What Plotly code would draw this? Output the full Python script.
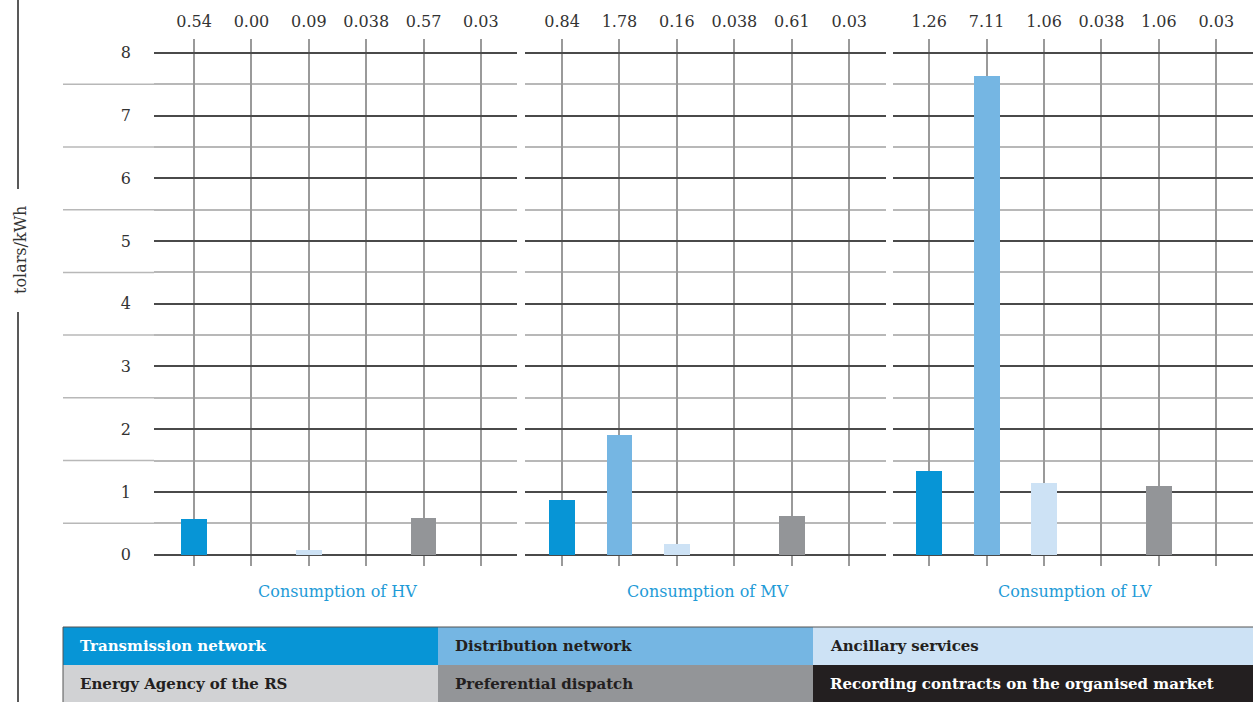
import plotly.graph_objects as go

W, H = 1253, 702

# ---- data ----
panels = ["Consumption of HV", "Consumption of MV", "Consumption of LV"]
series = ["Transmission network", "Distribution network", "Ancillary services",
          "Energy Agency of the RS", "Preferential dispatch",
          "Recording contracts on the organised market"]
colors = ["#0795d6", "#75b6e3", "#cde2f5", "#d1d2d4", "#939598", "#231f20"]

# labelled values printed above each column
labels_hv = ["0.54", "0.00", "0.09", "0.038", "0.57", "0.03"]
labels_mv = ["0.84", "1.78", "0.16", "0.038", "0.61", "0.03"]
labels_lv = ["1.26", "7.11", "1.06", "0.038", "1.06", "0.03"]

# bar heights as drawn in the picture
bars_hv = [0.57, 0.0, 0.075, 0.0, 0.585, 0.0]
bars_mv = [0.87, 1.91, 0.17, 0.0, 0.62, 0.0]
bars_lv = [1.335, 7.63, 1.14, 0.0, 1.095, 0.0]

y_ticks = [0, 1, 2, 3, 4, 5, 6, 7, 8]
y_title = "tolars/kWh"

labels_all = [labels_hv, labels_mv, labels_lv]
bars_all = [bars_hv, bars_mv, bars_lv]

FONT = "DejaVu Serif"
px_x = lambda p: p / W
px_y = lambda p: 1 - p / H

domains = [(154, 517), (525, 886), (893, 1253)]
xranges = [[-0.70, 5.63], [-0.645, 5.64], [-0.63, 5.64]]
cats = list(range(6))

fig = go.Figure()
for i in range(3):
    sfx = "" if i == 0 else str(i + 1)
    fig.add_trace(go.Bar(
        x=cats, y=bars_all[i], width=0.45,
        marker=dict(color=colors, line=dict(width=0)),
        xaxis="x" + sfx, yaxis="y" + sfx, showlegend=False,
        hoverinfo="skip"))
    fig.update_layout(**{
        "xaxis" + sfx: dict(
            domain=[px_x(domains[i][0]), px_x(domains[i][1])],
            range=xranges[i], side="top", anchor="y" + sfx,
            tickvals=cats, ticktext=labels_all[i],
            showgrid=True, gridcolor="#9a9a9a", gridwidth=1.5,
            zeroline=False, showline=False, ticks="",
            ticklabelstandoff=8,
            tickfont=dict(family=FONT, size=16, color="#333333"),
            fixedrange=True),
        "yaxis" + sfx: dict(
            domain=[px_y(566), px_y(39)], range=[-0.18, 8.22],
            anchor="x" + sfx, tickvals=y_ticks,
            showticklabels=(i == 0),
            showgrid=True, gridcolor="#4a4a4a", gridwidth=1.5,
            minor=dict(dtick=0.5, tick0=0, showgrid=True,
                       gridcolor="#b8b8b8", gridwidth=1.5),
            zeroline=False, showline=False, ticks="",
            ticklabelstandoff=22,
            tickfont=dict(family=FONT, size=16, color="#333333"),
            fixedrange=True),
    })

shapes = []
annotations = []

# light half-unit lines extending left of the first panel
for k in range(8):
    yv = k + 0.5
    shapes.append(dict(type="line", xref="paper", yref="y",
                       x0=px_x(63), x1=px_x(154), y0=yv, y1=yv,
                       line=dict(color="#b8b8b8", width=1.5), layer="below"))

# left vertical rule broken around the axis title
shapes.append(dict(type="line", xref="paper", yref="paper",
                   x0=px_x(18), x1=px_x(18), y0=px_y(0), y1=px_y(189),
                   line=dict(color="#222222", width=1.5)))
shapes.append(dict(type="line", xref="paper", yref="paper",
                   x0=px_x(18), x1=px_x(18), y0=px_y(312), y1=px_y(702),
                   line=dict(color="#222222", width=1.5)))
annotations.append(dict(text=y_title, xref="paper", yref="paper",
                        x=px_x(20), y=px_y(250), textangle=-90,
                        showarrow=False, xanchor="center", yanchor="middle",
                        font=dict(family=FONT, size=16, color="#333333")))

# panel titles
for i in range(3):
    cx = (domains[i][0] + domains[i][1]) / 2 + 2
    annotations.append(dict(text=panels[i], xref="paper", yref="paper",
                            x=px_x(cx), y=px_y(591), showarrow=False,
                            xanchor="center", yanchor="middle",
                            font=dict(family=FONT, size=16, color="#1f9bd7")))

# legend table
col_x = [63, 438, 813, 1253]
row_y = [627, 665, 703]
text_col = ["#ffffff", "#231f20", "#231f20", "#231f20", "#231f20", "#ffffff"]
for j, name in enumerate(series):
    r, c = divmod(j, 3)
    shapes.append(dict(type="rect", xref="paper", yref="paper",
                       x0=px_x(col_x[c]), x1=px_x(col_x[c + 1]),
                       y0=px_y(row_y[r + 1]), y1=px_y(row_y[r]),
                       fillcolor=colors[j], line=dict(width=0)))
    annotations.append(dict(text="<b>" + name + "</b>", xref="paper", yref="paper",
                            x=px_x(col_x[c] + 15), y=px_y((row_y[r] + row_y[r + 1]) / 2),
                            showarrow=False, xanchor="left", yanchor="middle",
                            font=dict(family=FONT, size=15, color=text_col[j])))
shapes.append(dict(type="line", xref="paper", yref="paper",
                   x0=px_x(63), x1=1, y0=px_y(627), y1=px_y(627),
                   line=dict(color="#555555", width=1)))
shapes.append(dict(type="line", xref="paper", yref="paper",
                   x0=px_x(63), x1=px_x(63), y0=0, y1=px_y(627),
                   line=dict(color="#555555", width=1)))

fig.update_layout(width=W, height=H, margin=dict(l=0, r=0, t=0, b=0),
                  paper_bgcolor="white", plot_bgcolor="white",
                  bargap=0, shapes=shapes, annotations=annotations,
                  showlegend=False)

fig.write_html("out.html", config={"displayModeBar": False},
               post_script="document.body.style.margin='0';"
                           "document.body.style.overflow='hidden';")
